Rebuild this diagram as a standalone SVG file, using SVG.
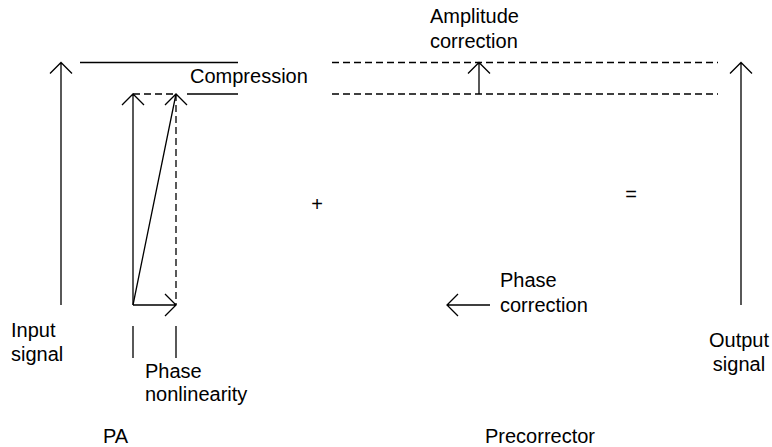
<svg xmlns="http://www.w3.org/2000/svg" width="772" height="447" viewBox="0 0 772 447">
<style>
.l{stroke:#000;stroke-width:1.3;fill:none}
.d{stroke:#000;stroke-width:1.3;fill:none;stroke-dasharray:7,4}
text{font-family:"Liberation Sans",Arial,sans-serif;font-size:20px;fill:#000}
</style>
<rect width="772" height="447" fill="#fff"/>
<g id="connectors">
<path class="l" d="M61,305V62.5M50,73.5L61,62.5L72,73.5"/>
<path class="l" d="M80,62.5H238M187,94H238"/>
<path class="l" d="M133,305V94M122,105L133,94L144,105"/>
<path class="d" d="M133,94H176M176,94V305"/>
<path class="l" d="M133,305L176,94M165,105L176,94L187,105"/>
<path class="l" d="M133,305H176M165,294L176,305L165,316"/>
<path class="l" d="M133,326V358M176,326V358"/>
<path class="d" d="M332,62.5H718M332,94H718"/>
<path class="l" d="M479,94V62.5M468,73.5L479,62.5L490,73.5"/>
<path class="l" d="M741,305V62.5M730,73.5L741,62.5L752,73.5"/>
<path class="l" d="M490,305H447M458,294L447,305L458,316"/>
</g>
<g id="labels">
<text x="430" y="23">Amplitude</text>
<text x="430" y="48">correction</text>
<text x="190" y="83">Compression</text>
<text x="317" y="211" text-anchor="middle">+</text>
<text x="631" y="201" text-anchor="middle">=</text>
<text x="11" y="337">Input</text>
<text x="11" y="361">signal</text>
<text x="145" y="378">Phase</text>
<text x="145" y="401">nonlinearity</text>
<text x="500" y="287">Phase</text>
<text x="500" y="312">correction</text>
<text x="739" y="347" text-anchor="middle">Output</text>
<text x="739" y="371" text-anchor="middle">signal</text>
<text x="103" y="443">PA</text>
<text x="485" y="443">Precorrector</text>
</g>
</svg>
